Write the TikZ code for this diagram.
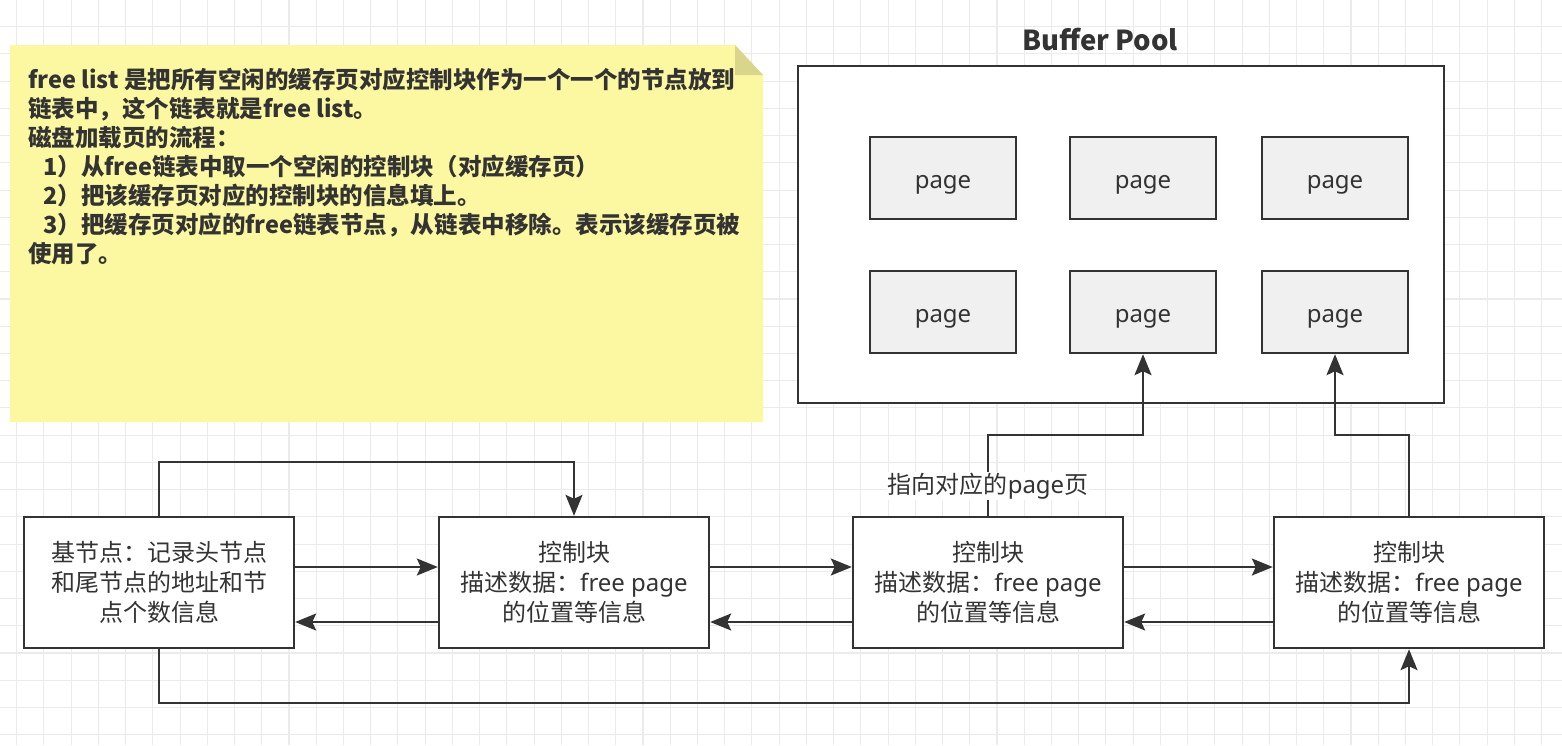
\documentclass[tikz,border=0pt]{standalone}
\usepackage{fontspec}
\setmainfont{Noto Sans CJK SC}
\newfontfamily\lat{Noto Sans}
\usepackage{tikz}
\usetikzlibrary{arrows.meta}
\definecolor{linegray}{HTML}{333333}
\definecolor{gridgray}{HTML}{EBEBEB}
\definecolor{notebg}{HTML}{FCF8A2}
\definecolor{notefold}{HTML}{D9D68C}
\definecolor{pagebg}{HTML}{F0F0F0}
\tikzstyle{every node}=[text=linegray]
\tikzstyle{gridline}=[gridgray,line width=1.1pt]
\tikzstyle{link}=[linegray,line width=2pt,-{Stealth[length=21pt,width=17pt,inset=4pt]}]
\tikzstyle{ctrlbox}=[draw=linegray,fill=white,line width=2.4pt,minimum width=270pt,minimum height=131pt,align=center,font=\fontsize{24}{30}\selectfont]
\tikzstyle{pagebox}=[draw=linegray,fill=pagebg,line width=2.4pt,minimum width=146pt,minimum height=82pt,text height=21pt,text depth=1pt,font=\lat\fontsize{24}{26}\selectfont]
\tikzstyle{poolbox}=[draw=linegray,fill=white,line width=2.4pt,minimum width=646pt,minimum height=337pt]

\begin{document}
\begin{tikzpicture}[x=1pt,y=-1pt,node distance=415pt]
	\useasboundingbox (0,0) rectangle (1562,745);
	\fill[white] (0,0) rectangle (1562,745);
	% background grid
	\foreach \i in {0,...,57} \draw[gridline] (16.7+27.23*\i,0) -- (16.7+27.23*\i,745);
	\foreach \j in {0,...,26} \draw[gridline] (0,26.7+27.23*\j) -- (1562,26.7+27.23*\j);

	% note
	\fill[notebg] (10,45) -- (735,45) -- (763,75) -- (763,422) -- (10,422) -- cycle;
	\fill[notefold] (735,45) -- (763,75) -- (735,75) -- cycle;
	\node(note)[anchor=north west,inner sep=0pt,align=left,font=\fontsize{23.5}{29}\selectfont\bfseries] at (28,68)
		{free list 是把所有空闲的缓存页对应控制块作为一个一个的节点放到\\
		链表中，这个链表就是free list。\\
		磁盘加载页的流程：\\
		\hspace*{15pt}1）从free链表中取一个空闲的控制块（对应缓存页）\\
		\hspace*{15pt}2）把该缓存页对应的控制块的信息填上。\\
		\hspace*{15pt}3）把缓存页对应的free链表节点，从链表中移除。表示该缓存页被\\
		使用了。};

	% buffer pool
	\node(pool)[poolbox] at (1121,234.5){};
	\node(pooltitle)[font=\fontsize{27.5}{30}\selectfont\bfseries] at (1100,40){Buffer Pool};
	\foreach \x/\n in {943/1,1143/2,1335/3}{
		\node(pt\n)[pagebox] at (\x,178){page};
		\node(pb\n)[pagebox] at (\x,312){page};
	}

	% free list nodes
	\node(base)[ctrlbox] at (159,582.5){基节点：记录头节点\\和尾节点的地址和节\\点个数信息};
	\node(ctrl1)[ctrlbox,right of=base]{控制块\\描述数据：{\lat free page}\\的位置等信息};
	\node(ctrl2)[ctrlbox,node distance=414pt,right of=ctrl1]{控制块\\描述数据：{\lat free page}\\的位置等信息};
	\node(ctrl3)[ctrlbox,node distance=421pt,right of=ctrl2]{控制块\\描述数据：{\lat free page}\\的位置等信息};

	\path[link] ([yshift=15.5pt]base.east) edge ([yshift=15.5pt]ctrl1.west)
		([yshift=-39.5pt]ctrl1.west) edge ([yshift=-39.5pt]base.east)
		([yshift=15.5pt]ctrl1.east) edge ([yshift=15.5pt]ctrl2.west)
		([yshift=-39.5pt]ctrl2.west) edge ([yshift=-39.5pt]ctrl1.east)
		([yshift=15.5pt]ctrl2.east) edge ([yshift=15.5pt]ctrl3.west)
		([yshift=-39.5pt]ctrl3.west) edge ([yshift=-39.5pt]ctrl2.east);
	\draw[link] (base.north) -- ++(0,-54) -| (ctrl1.north);
	\draw[link] (base.south) -- ++(0,54) -| (ctrl3.south);
	\draw[link] (ctrl2.north) -- node(ptrlabel)[pos=0.37,fill=white,inner sep=1pt,font=\fontsize{24}{26}\selectfont]{指向对应的{\lat page}页} ++(0,-81) -| (pb2.south);
	\draw[link] (ctrl3.north) -- ++(0,-81) -| (pb3.south);
\end{tikzpicture}
\end{document}
